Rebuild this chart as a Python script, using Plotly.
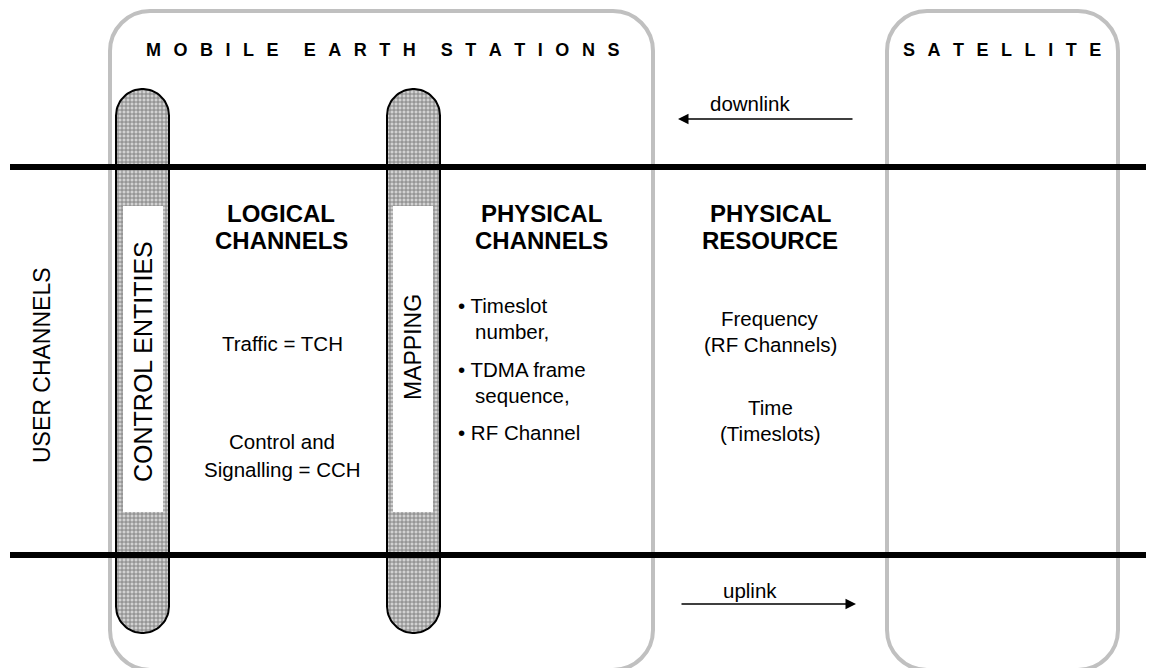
import numpy as np
import plotly.graph_objects as go

W, H = 1154, 668
OFF = 8  # browser body margin
FONT = "Arial, Liberation Sans, sans-serif"

# ---- text content ----
title_words = [["MOBILE", "EARTH", "STATIONS"], ["SATELLITE"]]
pill_labels = ["CONTROL ENTITIES", "MAPPING"]
side_label = "USER CHANNELS"
headers = [["LOGICAL", "CHANNELS"], ["PHYSICAL", "CHANNELS"], ["PHYSICAL", "RESOURCE"]]
logical_items = ["Traffic = TCH", "Control and", "Signalling = CCH"]
physical_items = ["\u2022 Timeslot", "\u00a0\u00a0\u00a0number,", "\u2022 TDMA frame",
                  "\u00a0\u00a0\u00a0sequence,", "\u2022 RF Channel"]
resource_items = ["Frequency", "(RF Channels)", "Time", "(Timeslots)"]
link_labels = ["downlink", "uplink"]

# ---- geometry (pixel layout) ----
boxes = [(110, 11, 653, 670), (887, 11, 1118, 670)]
box_r = 40
pills = [(116, 169), (387, 440)]
pill_top, pill_bot = 89, 633
windows = [(123, 163), (393, 433)]
win_top, win_bot = 206, 512
bus_y = [167, 555]


def spaced(words):
    gap = "<span style='font-size:22.5px'>\u00a0\u00a0</span>"
    wgap = "<span style='font-size:18px'>" + "\u00a0" * 5 + "</span>"
    return wgap.join(gap.join(list(w)) for w in words)


def rrect(x0, y0, x1, y1, r):
    k = 0.5523 * r
    return (f"M{x0+r},{y0} L{x1-r},{y0} C{x1-r+k},{y0} {x1},{y0+r-k} {x1},{y0+r} "
            f"L{x1},{y1-r} C{x1},{y1-r+k} {x1-r+k},{y1} {x1-r},{y1} "
            f"L{x0+r},{y1} C{x0+r-k},{y1} {x0},{y1-r+k} {x0},{y1-r} "
            f"L{x0},{y0+r} C{x0},{y0+r-k} {x0+r-k},{y0} {x0+r},{y0} Z")


fig = go.Figure()

for (x0, x1) in pills:
    r = (x1 - x0) / 2
    cx = (x0 + x1) / 2
    t1 = np.linspace(np.pi, 2 * np.pi, 40)
    t2 = np.linspace(0, np.pi, 40)
    xs = np.concatenate([cx + r * np.cos(t1), cx + r * np.cos(t2)])
    ys = np.concatenate([pill_top + r + r * np.sin(t1), pill_bot - r + r * np.sin(t2)])
    xs = np.append(xs, xs[0]); ys = np.append(ys, ys[0])
    fig.add_trace(go.Scatter(x=xs, y=ys, mode="lines", fill="toself",
                             line=dict(color="black", width=2),
                             fillcolor="#c8c8c8",
                             fillpattern=dict(shape="+", size=4, solidity=0.4,
                                              fgcolor="#7c7c7c", bgcolor="#d2d2d2", fillmode="replace"),
                             hoverinfo="skip", showlegend=False))

shapes = []
for (x0, y0, x1, y1) in boxes:
    shapes.append(dict(type="path", path=rrect(x0, y0, x1, y1, box_r), xref="x", yref="y",
                       line=dict(color="#c0c0c0", width=4), layer="below"))
for (x0, x1) in windows:
    shapes.append(dict(type="rect", x0=x0, x1=x1, y0=win_top, y1=win_bot, xref="x", yref="y",
                       fillcolor="white", line=dict(width=0), layer="above"))
for y in bus_y:
    shapes.append(dict(type="line", x0=10, x1=1170, y0=y, y1=y, xref="x", yref="y",
                       line=dict(color="black", width=6), layer="above"))

ann = []


def txt(x, y, s, size=20, bold=False, angle=0, xanchor="center"):
    if bold:
        s = f"<b>{s}</b>"
    ann.append(dict(x=x, y=y, xref="x", yref="y", text=s, showarrow=False,
                    font=dict(family=FONT, size=size, color="black"), textangle=angle,
                    xanchor=xanchor, yanchor="middle", align="center"))


txt(382, 48, spaced(title_words[0]), size=18, bold=True)
txt(1002, 48, spaced(title_words[1]), size=18, bold=True)
txt(42, 365, side_label, size=23, angle=-90)
txt(143, 362, pill_labels[0], size=25, angle=-90)
txt(413, 347, pill_labels[1], size=23, angle=-90)

for x, (l1, l2) in zip([281, 541, 770], headers):
    txt(x, 213, l1, size=24, bold=True)
    txt(x, 240, l2, size=24, bold=True)

for y, s in zip([343, 441, 469], logical_items):
    txt(282, y, s, size=20.5)
for y, s in zip([305, 331, 369, 395, 432], physical_items):
    txt(456, y, s, size=20.5, xanchor="left")
for y, s in zip([318, 344, 407, 433], resource_items):
    txt(770, y, s, size=20.5)

txt(750, 103, link_labels[0], size=20.5)
txt(750, 590, link_labels[1], size=20.5)

ann.append(dict(x=678, y=119, ax=854, ay=119, xref="x", yref="y", axref="x", ayref="y",
                showarrow=True, arrowhead=2, arrowsize=1.4, arrowwidth=1.5, arrowcolor="black", text=""))
ann.append(dict(x=856, y=604, ax=680, ay=604, xref="x", yref="y", axref="x", ayref="y",
                showarrow=True, arrowhead=2, arrowsize=1.4, arrowwidth=1.5, arrowcolor="black", text=""))

fig.update_layout(width=W - OFF, height=H - OFF, margin=dict(l=0, r=0, t=0, b=0),
                  paper_bgcolor="white", plot_bgcolor="white",
                  xaxis=dict(range=[OFF, W], visible=False, fixedrange=True),
                  yaxis=dict(range=[H, OFF], visible=False, fixedrange=True),
                  shapes=shapes, annotations=ann, showlegend=False)

fig.write_html("out.html")
